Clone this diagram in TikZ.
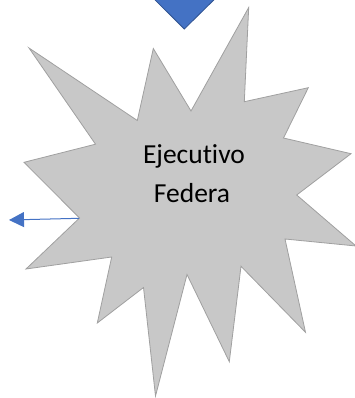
\documentclass[tikz,border=0pt]{standalone}
\usepackage{fontspec}
\setmainfont{Carlito}[Ligatures=NoCommon]
\usetikzlibrary{arrows.meta}
\definecolor{starfill}{RGB}{200,200,200}
\definecolor{stardraw}{RGB}{160,160,160}
\definecolor{accentblue}{RGB}{68,114,196}
\definecolor{darkblue}{RGB}{47,82,143}
\tikzset{
  starshape/.style={fill=starfill, draw=stardraw, line width=0.8pt, line join=miter},
  tri/.style={fill=accentblue, draw=darkblue, line width=0.8pt},
  label/.style={font=\fontsize{27.5}{33}\selectfont, anchor=base, inner sep=0pt},
  link/.style={draw=accentblue, line width=1pt, -{Triangle[length=15pt,width=15pt]}}
}
\begin{document}
\begin{tikzpicture}[x=1pt,y=-1pt]
\useasboundingbox (0,0) rectangle (355,398);
\clip (0,0) rectangle (355,398);
% top triangle
\draw[tri] (140,-15) -- (229,-15) -- (184.3,29) -- cycle;
% star
\draw[starshape] (29,48) -- (137.3,120.5) -- (153.3,48.5) -- (191,111) -- (248.7,7.5)
  -- (244.3,101.7) -- (308.3,87.7) -- (283.5,138) -- (351,153.7) -- (296.7,195)
  -- (356,246) -- (285,239) -- (305.5,332.3) -- (241,266.3) -- (229.3,361.7)
  -- (187,274.5) -- (155.5,396) -- (143.5,287.5) -- (97.3,323) -- (111.7,257)
  -- (26,269) -- (79.5,218) -- (24,162.3) -- (95.5,144.2) -- cycle;
\coordinate (arrstart) at (79,218.3);
\coordinate (arrend) at (9,220);
\node[label] (ejec) at (194,163.3) {Ejecutivo};
\node[label] (fed) at (192,202) {Federa};
\draw[link] (arrstart) -- (arrend);
\end{tikzpicture}
\end{document}
